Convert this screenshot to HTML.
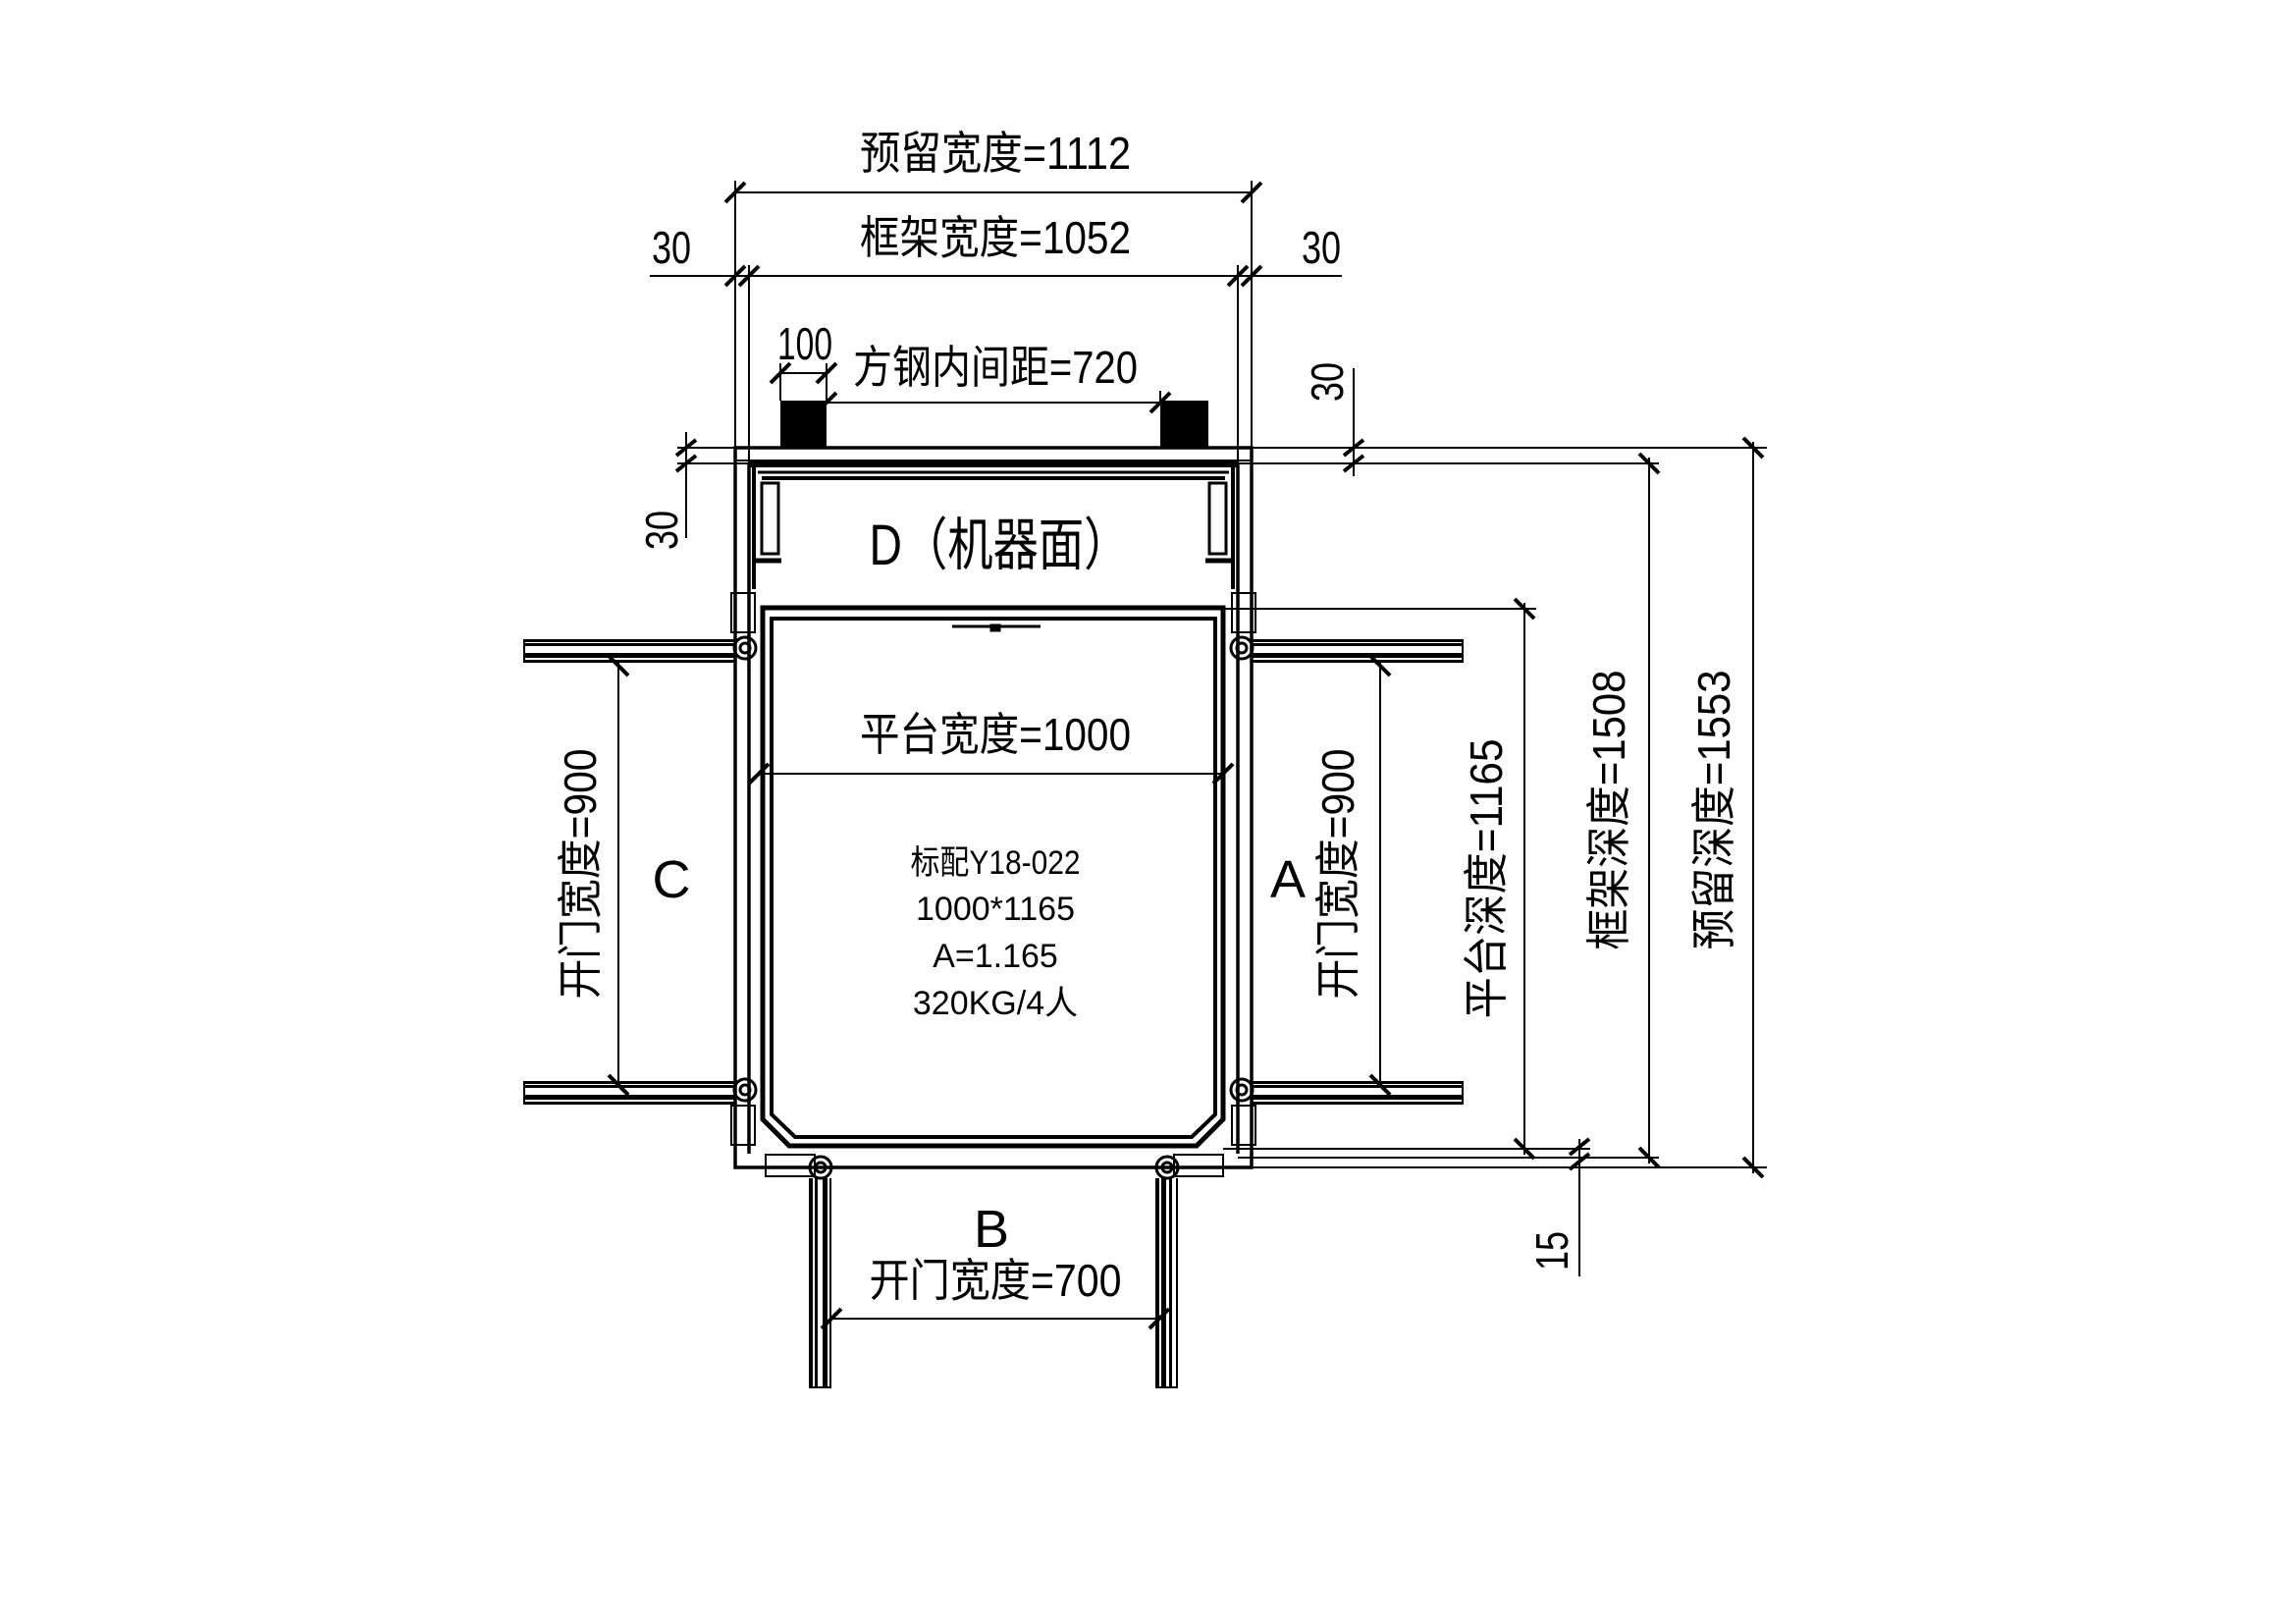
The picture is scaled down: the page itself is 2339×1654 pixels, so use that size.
<!DOCTYPE html>
<html><head><meta charset="utf-8"><style>
html,body{margin:0;padding:0;background:#fff}
svg{display:block}
text{font-family:"Liberation Sans","Noto Sans CJK SC",sans-serif;fill:#000}
</style></head><body>
<svg width="2339" height="1654" viewBox="0 0 2339 1654" xmlns="http://www.w3.org/2000/svg">
<g stroke="#000" fill="none" stroke-width="2">
<line x1="749" y1="196" x2="1275" y2="196"/>
<line x1="662" y1="281" x2="1367" y2="281"/>
<line x1="749" y1="184" x2="749" y2="456"/>
<line x1="1275" y1="184" x2="1275" y2="456"/>
<line x1="763" y1="270" x2="763" y2="472"/>
<line x1="1261" y1="270" x2="1261" y2="472"/>
<line x1="795" y1="380" x2="842" y2="380"/>
<line x1="795" y1="370" x2="795" y2="408"/>
<line x1="842" y1="370" x2="842" y2="408"/>
<line x1="842" y1="410" x2="1182" y2="410"/>
<line x1="1182" y1="398" x2="1182" y2="408"/>
<line x1="1275" y1="456" x2="1800" y2="456"/>
<line x1="1261" y1="472" x2="1690" y2="472"/>
<line x1="1379" y1="375" x2="1379" y2="485"/>
<line x1="699" y1="440" x2="699" y2="548"/>
<line x1="690" y1="456" x2="749" y2="456"/>
<line x1="690" y1="472" x2="763" y2="472"/>
<line x1="1246" y1="620" x2="1565" y2="620"/>
<line x1="1246" y1="1170" x2="1620" y2="1170"/>
<line x1="1261" y1="1179" x2="1690" y2="1179"/>
<line x1="1275" y1="1189" x2="1800" y2="1189"/>
<line x1="1786" y1="450" x2="1786" y2="1195"/>
<line x1="1680" y1="466" x2="1680" y2="1185"/>
<line x1="1553" y1="614" x2="1553" y2="1176"/>
<line x1="1609" y1="1160" x2="1609" y2="1300"/>
<line x1="630" y1="672" x2="630" y2="1108"/>
<line x1="1406" y1="672" x2="1406" y2="1108"/>
<line x1="773" y1="788" x2="1246" y2="788"/>
<line x1="847" y1="1343" x2="1181" y2="1343"/>
</g>
<g stroke="#000" stroke-width="4">
<path d="M739 206L759 186M1265 206L1285 186M739 291L759 271M753 291L773 271M1251 291L1271 271M1265 291L1285 271"/>
<path d="M785 390L805 370M832 390L852 370M832 420L852 400M1172 420L1192 400"/>
<path d="M689 464L709 448M689 480L709 464M1369 464L1389 448M1369 480L1389 464"/>
<path d="M1776 446L1796 466M1776 1179L1796 1199M1670 462L1690 482M1670 1169L1690 1189M1543 610L1563 630M1543 1160L1563 1180M1599 1176L1619 1160M1599 1191L1619 1175"/>
<path d="M620 668L640 688M620 1095L640 1115M1396 668L1416 688M1396 1095L1416 1115"/>
<path d="M763 798L783 778M1236 798L1256 778M837 1353L857 1333M1171 1353L1191 1333"/>
</g>
<rect x="795" y="408" width="47" height="48" fill="#000"/>
<rect x="1182" y="408" width="49" height="48" fill="#000"/>
<g stroke="#000" fill="none">
<rect x="749" y="456" width="526" height="733" stroke-width="3.5"/>
<line x1="749" y1="469" x2="1275" y2="469" stroke-width="2"/>
<line x1="763" y1="473" x2="1261" y2="473" stroke-width="6"/>
<line x1="772" y1="481" x2="1252" y2="481" stroke-width="3"/>
<line x1="776" y1="487" x2="1248" y2="487" stroke-width="4"/>
<line x1="763" y1="473" x2="763" y2="1175" stroke-width="3.5"/>
<line x1="768" y1="473" x2="768" y2="600" stroke-width="4"/>
<line x1="1261" y1="473" x2="1261" y2="1175" stroke-width="3.5"/>
<line x1="1256" y1="473" x2="1256" y2="600" stroke-width="4"/>
<rect x="776" y="492" width="17" height="72" stroke-width="3"/>
<rect x="1232" y="492" width="17" height="72" stroke-width="3"/>
<line x1="768" y1="571" x2="796" y2="571" stroke-width="5"/>
<line x1="1228" y1="571" x2="1256" y2="571" stroke-width="5"/>
<path d="M777 619H1246V1140L1219 1167H804L777 1140Z" stroke-width="5"/>
<path d="M786 630H1238V1135L1214 1158H810L786 1135Z" stroke-width="4"/>
<line x1="970" y1="638" x2="1060" y2="638" stroke-width="3"/>
<rect x="1009" y="636" width="10" height="7" fill="#000"/>
<rect x="745" y="604" width="24" height="40" stroke-width="2"/>
<rect x="1255" y="604" width="24" height="40" stroke-width="2"/>
<rect x="745" y="1126" width="24" height="40" stroke-width="2"/>
<rect x="1255" y="1126" width="24" height="40" stroke-width="2"/>
<rect x="780" y="1176" width="50" height="22" stroke-width="2"/>
<rect x="1196" y="1176" width="50" height="22" stroke-width="2"/>
<circle cx="759" cy="660" r="11" stroke-width="3"/><circle cx="759" cy="660" r="5" stroke-width="3"/>
<circle cx="1265" cy="660" r="11" stroke-width="3"/><circle cx="1265" cy="660" r="5" stroke-width="3"/>
<circle cx="759" cy="1110" r="11" stroke-width="3"/><circle cx="759" cy="1110" r="5" stroke-width="3"/>
<circle cx="1265" cy="1110" r="11" stroke-width="3"/><circle cx="1265" cy="1110" r="5" stroke-width="3"/>
<circle cx="836" cy="1189" r="11" stroke-width="3"/><circle cx="836" cy="1189" r="5" stroke-width="3"/>
<circle cx="1189" cy="1189" r="11" stroke-width="3"/><circle cx="1189" cy="1189" r="5" stroke-width="3"/>
</g>
<g fill="#000">
<rect x="533" y="651" width="216" height="3"/><rect x="533" y="655" width="216" height="3"/><rect x="533" y="665" width="216" height="5"/><rect x="533" y="672" width="216" height="3"/><rect x="533" y="651" width="2" height="24"/>
<rect x="533" y="1101" width="216" height="3"/><rect x="533" y="1105" width="216" height="3"/><rect x="533" y="1115" width="216" height="5"/><rect x="533" y="1122" width="216" height="3"/><rect x="533" y="1101" width="2" height="24"/>
<rect x="1275" y="651" width="216" height="3"/><rect x="1275" y="655" width="216" height="3"/><rect x="1275" y="665" width="216" height="5"/><rect x="1275" y="672" width="216" height="3"/><rect x="1489" y="651" width="2" height="24"/>
<rect x="1275" y="1101" width="216" height="3"/><rect x="1275" y="1105" width="216" height="3"/><rect x="1275" y="1115" width="216" height="5"/><rect x="1275" y="1122" width="216" height="3"/><rect x="1489" y="1101" width="2" height="24"/>
<rect x="824" y="1200" width="4" height="214"/><rect x="830" y="1200" width="3" height="214"/><rect x="838" y="1200" width="5" height="214"/><rect x="845" y="1200" width="2" height="214"/><rect x="824" y="1412" width="23" height="2"/>
<rect x="1177" y="1200" width="4" height="214"/><rect x="1183" y="1200" width="5" height="214"/><rect x="1191" y="1200" width="3" height="214"/><rect x="1198" y="1200" width="2" height="214"/><rect x="1177" y="1412" width="23" height="2"/>
</g>
<g font-size="46">
<text x="1014" y="172" text-anchor="middle" textLength="276" lengthAdjust="spacingAndGlyphs">预留宽度=1112</text>
<text x="1014" y="258" text-anchor="middle" textLength="276" lengthAdjust="spacingAndGlyphs">框架宽度=1052</text>
<text x="684" y="268" text-anchor="middle" textLength="40" lengthAdjust="spacingAndGlyphs">30</text>
<text x="1346" y="268" text-anchor="middle" textLength="40" lengthAdjust="spacingAndGlyphs">30</text>
<text x="820" y="366" text-anchor="middle" textLength="56" lengthAdjust="spacingAndGlyphs">100</text>
<text x="1014" y="390" text-anchor="middle" textLength="290" lengthAdjust="spacingAndGlyphs">方钢内间距=720</text>
<text x="1014" y="764" text-anchor="middle" textLength="276" lengthAdjust="spacingAndGlyphs">平台宽度=1000</text>
<text x="1014" y="1320" text-anchor="middle" textLength="257" lengthAdjust="spacingAndGlyphs">开门宽度=700</text>
<text transform="translate(1368,389) rotate(-90)" text-anchor="middle" textLength="40" lengthAdjust="spacingAndGlyphs">30</text>
<text transform="translate(690,540) rotate(-90)" text-anchor="middle" textLength="40" lengthAdjust="spacingAndGlyphs">30</text>
<text transform="translate(1597,1274) rotate(-90)" text-anchor="middle" textLength="40" lengthAdjust="spacingAndGlyphs">15</text>
<text transform="translate(1762,825) rotate(-90)" text-anchor="middle" textLength="285" lengthAdjust="spacingAndGlyphs">预留深度=1553</text>
<text transform="translate(1655,825) rotate(-90)" text-anchor="middle" textLength="285" lengthAdjust="spacingAndGlyphs">框架深度=1508</text>
<text transform="translate(1530,895) rotate(-90)" text-anchor="middle" textLength="285" lengthAdjust="spacingAndGlyphs">平台深度=1165</text>
<text transform="translate(607,890) rotate(-90)" text-anchor="middle" textLength="255" lengthAdjust="spacingAndGlyphs">开门宽度=900</text>
<text transform="translate(1379,890) rotate(-90)" text-anchor="middle" textLength="255" lengthAdjust="spacingAndGlyphs">开门宽度=900</text>
</g>
<g font-size="58">
<text x="1018" y="575" text-anchor="middle" textLength="265" lengthAdjust="spacingAndGlyphs">D（机器面）</text>
</g>
<g font-size="54">
<text x="684" y="914" text-anchor="middle">C</text>
<text x="1312" y="914" text-anchor="middle">A</text>
<text x="1010" y="1270" text-anchor="middle">B</text>
</g>
<g font-size="34" text-anchor="middle">
<text x="1014" y="890" textLength="173" lengthAdjust="spacingAndGlyphs">标配Y18-022</text>
<text x="1014" y="937">1000*1165</text>
<text x="1014" y="985">A=1.165</text>
<text x="1014" y="1033">320KG/4人</text>
</g>
</svg>
</body></html>
